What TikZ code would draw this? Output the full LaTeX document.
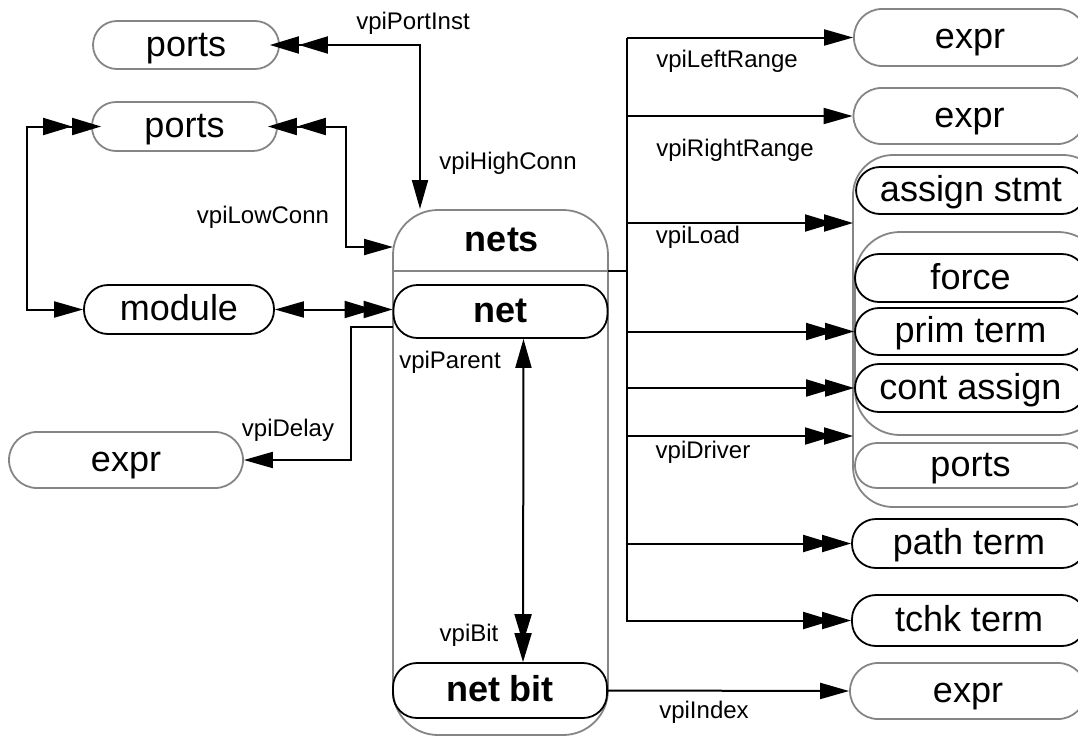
\documentclass[tikz,border=0pt]{standalone}
\usepackage{fontspec}
\setmainfont{Liberation Sans}
\usepackage{tikz}
\usetikzlibrary{arrows.meta}
\definecolor{edgegray}{gray}{0.52}
\tikzstyle{obj} = [rectangle, draw=edgegray, line width=1.8pt, rounded corners=24pt, minimum width=232pt, minimum height=48pt, inner sep=0pt, text height=27pt, text depth=5pt, font=\fontsize{36}{40}\selectfont]
\tikzstyle{blk} = [obj, draw=black]
\tikzstyle{bld} = [text height=27pt, text depth=5pt, font=\fontsize{36}{40}\selectfont\bfseries]
\tikzstyle{grp} = [rectangle, draw=edgegray, line width=1.8pt, rounded corners=40pt, inner sep=0pt]
\tikzstyle{lbl} = [inner sep=0pt, font=\fontsize{24}{28}\selectfont]
\tikzstyle{conn} = [line width=2pt]
\tikzstyle{bus} = [line width=2.6pt]
\tikzstyle{arrow} = [conn, -{Triangle[length=29pt,width=16pt]}]
\tikzstyle{darrow} = [conn, -{Triangle[length=29pt,width=17pt,sep=-10pt]Triangle[length=29pt,width=17pt]}]
\tikzstyle{dsarrow} = [conn, {Triangle[length=29pt,width=17pt,sep=-10pt]Triangle[length=29pt,width=17pt]}-{Triangle[length=29pt,width=16pt]}]
\tikzstyle{sdarrow} = [conn, {Triangle[length=29pt,width=16pt]}-{Triangle[length=29pt,width=17pt,sep=-10pt]Triangle[length=29pt,width=17pt]}]

\begin{document}
\begin{tikzpicture}[x=1pt,y=-1pt]
\useasboundingbox (0,0) rectangle (1078,737);
\clip (0,0) rectangle (1078,737);

% left side
\node[obj, minimum width=186pt] (p1) at (186,45) {ports};
\node[obj, minimum width=185pt, minimum height=49pt] (p2) at (184.5,126.5) {ports};
\node[blk, minimum width=190pt, minimum height=49pt] (mod) at (179,309.5) {module};
\node[obj, minimum width=234pt, minimum height=56pt, rounded corners=28pt] (ex1) at (126,460) {expr};

% nets
\node[grp, minimum width=215pt, minimum height=525pt, rounded corners=45pt] (nets) at (500.5,472.5) {};
\node[bld] (nl) at (502,240) {nets};
\coordinate (dv) at (608,271);
\draw[edgegray, line width=1.8pt] (nets.west |- dv) -- (dv);
\node[blk, bld, minimum width=214pt, minimum height=53pt] (net) at (500.5,311.5) {net};
\node[blk, bld, minimum width=214pt, minimum height=55pt] (nb) at (500,690.5) {net bit};

% right side
\node[obj, minimum height=57pt, rounded corners=28pt] (e2) at (970,37.5) {expr};
\node[obj, minimum height=56pt, rounded corners=28pt] (e3) at (969.5,116) {expr};
\node[grp, minimum width=250pt, minimum height=352pt] (g1) at (978,331) {};
\node[blk, minimum width=230pt, minimum height=47pt] (asg) at (971,190.5) {assign stmt};
\node[grp, minimum width=248pt, minimum height=203pt, rounded corners=45pt] (g2) at (979,333.5) {};
\node[blk, minimum width=231pt] (frc) at (970.5,278) {force};
\node[blk, minimum width=231pt, minimum height=47pt] (prm) at (970.5,331.5) {prim term};
\node[blk, minimum width=231pt] (cas) at (970.5,388) {cont assign};
\node[obj, minimum width=231pt, minimum height=45pt, rounded corners=22pt] (pr3) at (970.5,465.5) {ports};
\node[blk, minimum width=234pt, minimum height=49pt] (pth) at (969,543.5) {path term};
\node[blk, minimum width=234pt, minimum height=51pt] (tck) at (969,620.5) {tchk term};
\node[obj, minimum width=236pt, minimum height=56pt, rounded corners=28pt] (e4) at (968,691) {expr};

% labels
\node[lbl] (l1) at (413,23) {vpiPortInst};
\node[lbl] (l2) at (508,163) {vpiHighConn};
\node[lbl] (l3) at (263,217) {vpiLowConn};
\node[lbl] (l4) at (288,430) {vpiDelay};
\node[lbl] (l5) at (450,362) {vpiParent};
\node[lbl] (l6) at (469,635) {vpiBit};
\node[lbl] (l7) at (727,61) {vpiLeftRange};
\node[lbl] (l8) at (735,150) {vpiRightRange};
\node[lbl] (l9) at (698,237) {vpiLoad};
\node[lbl] (l10) at (703,452) {vpiDriver};
\node[lbl] (l11) at (704,712) {vpiIndex};

% connectors, left
\coordinate (hc) at (420,209);
\coordinate (lc) at (393,247);
\coordinate (dl) at (393,327);
\draw[dsarrow] (p1.east) -| (hc);
\draw[dsarrow] (p2.east) -- ++(68,0) |- (lc);
\draw[dsarrow] (p2.west) -- ++(-64,0) |- (mod.west);
\draw[sdarrow] (mod.east) -- (net.west |- mod.east);
\draw[arrow] (dl) -- ++(-42,0) |- (ex1.east);
\draw[sdarrow] ([xshift=23pt]net.south) -- ([xshift=23pt]nb.north);

% connectors, right
\coordinate (bt) at (627,37.5);
\coordinate (bb) at (627,622);
\coordinate (ld) at (853,223);
\coordinate (dr) at (853,436);
\draw[bus] (bt) -- (bb);
\draw[conn] (dv) -- (bt |- dv);
\draw[arrow] (bt) -- (e2.west);
\draw[arrow] (bt |- e3.west) -- (e3.west);
\draw[darrow] (bt |- ld) -- (ld);
\draw[darrow] (bt |- prm.west) -- (prm.west);
\draw[darrow] (bt |- cas.west) -- (cas.west);
\draw[darrow] (bt |- dr) -- (dr);
\draw[darrow] (bt |- pth.west) -- (pth.west);
\draw[darrow] (bt |- tck.west) -- (tck.west);
\draw[arrow] (nb.east) -- (e4.west);
\end{tikzpicture}
\end{document}
